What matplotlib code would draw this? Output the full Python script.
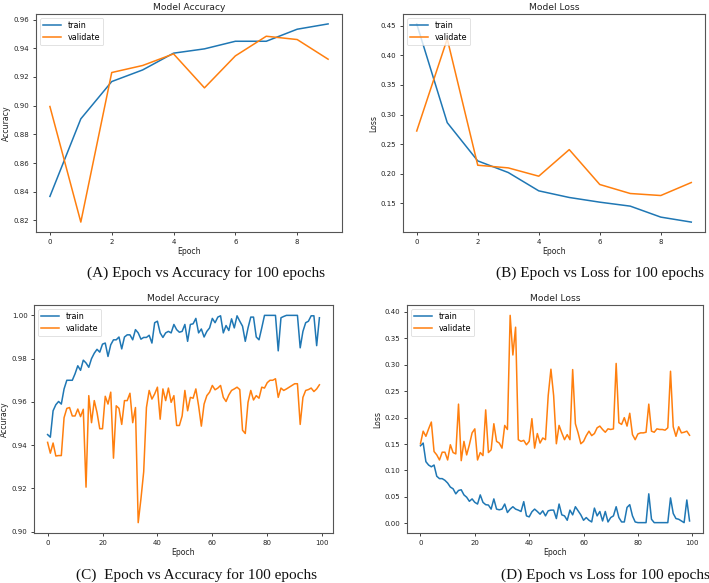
import matplotlib
matplotlib.use("Agg")
import matplotlib.pyplot as plt
from matplotlib.ticker import MultipleLocator

# ---- data ----
epochs10 = list(range(10))
acc10_train = [0.8367, 0.8908, 0.9168, 0.9249, 0.9366, 0.9396, 0.9449, 0.9449, 0.9533, 0.9570]
acc10_val = [0.8994, 0.8188, 0.9231, 0.9280, 0.9361, 0.9124, 0.9347, 0.9484, 0.9461, 0.9324]
loss10_train = [0.4528, 0.2863, 0.2218, 0.2022, 0.1713, 0.1601, 0.1522, 0.1455, 0.1270, 0.1186]
loss10_val = [0.2722, 0.4276, 0.2145, 0.2100, 0.1960, 0.2408, 0.1820, 0.1668, 0.1634, 0.1853]

epochs100 = list(range(100))
acc100_train = [
    0.9449, 0.9437, 0.9559, 0.9587, 0.9602, 0.9590, 0.9660, 0.9700, 0.9700, 0.9700,
    0.9730, 0.9767, 0.9746, 0.9793, 0.9780, 0.9760, 0.9800, 0.9825, 0.9843, 0.9830,
    0.9867, 0.9872, 0.9810, 0.9864, 0.9887, 0.9887, 0.9900, 0.9845, 0.9900, 0.9910,
    0.9910, 0.9887, 0.9934, 0.9919, 0.9890, 0.9898, 0.9898, 0.9908, 0.9872, 0.9966,
    0.9973, 0.9919, 0.9898, 0.9919, 0.9926, 0.9919, 0.9958, 0.9934, 0.9922, 0.9926,
    0.9958, 0.9880, 0.9958, 0.9961, 0.9986, 0.9919, 0.9937, 0.9900, 0.9926, 0.9942,
    0.9986, 0.9966, 0.9992, 0.9998, 0.9919, 0.9953, 0.9930, 0.9984, 0.9942, 0.9998,
    0.9973, 0.9950, 0.9880, 0.9942, 0.9992, 0.9992, 0.9900, 0.9887, 0.9942, 1.0000,
    1.0000, 1.0000, 1.0000, 1.0000, 0.9836, 0.9989, 0.9995, 1.0000, 1.0000, 1.0000,
    1.0000, 1.0000, 0.9850, 0.9926, 0.9966, 0.9973, 0.9998, 0.9998, 0.9860, 0.9989]
acc100_val = [
    0.9413, 0.9363, 0.9410, 0.9350, 0.9352, 0.9352, 0.9527, 0.9570, 0.9574, 0.9535,
    0.9535, 0.9567, 0.9532, 0.9566, 0.9206, 0.9629, 0.9504, 0.9606, 0.9551, 0.9476,
    0.9476, 0.9626, 0.9590, 0.9645, 0.9340, 0.9582, 0.9570, 0.9496, 0.9606, 0.9606,
    0.9640, 0.9504, 0.9574, 0.9042, 0.9152, 0.9277, 0.9574, 0.9653, 0.9613, 0.9637,
    0.9668, 0.9520, 0.9660, 0.9606, 0.9664, 0.9598, 0.9629, 0.9491, 0.9491, 0.9535,
    0.9653, 0.9559, 0.9621, 0.9617, 0.9660, 0.9582, 0.9488, 0.9590, 0.9629, 0.9645,
    0.9676, 0.9656, 0.9664, 0.9676, 0.9621, 0.9602, 0.9632, 0.9653, 0.9660, 0.9668,
    0.9657, 0.9469, 0.9454, 0.9598, 0.9653, 0.9609, 0.9629, 0.9617, 0.9668, 0.9664,
    0.9689, 0.9700, 0.9700, 0.9707, 0.9621, 0.9664, 0.9653, 0.9660, 0.9668, 0.9676,
    0.9684, 0.9684, 0.9496, 0.9621, 0.9653, 0.9657, 0.9664, 0.9648, 0.9660, 0.9679]
loss100_train = [
    0.1468, 0.1519, 0.1167, 0.1103, 0.1070, 0.1103, 0.0891, 0.0846, 0.0846, 0.0814,
    0.0763, 0.0686, 0.0654, 0.0558, 0.0622, 0.0635, 0.0538, 0.0494, 0.0417, 0.0462,
    0.0397, 0.0365, 0.0538, 0.0397, 0.0353, 0.0346, 0.0269, 0.0462, 0.0269, 0.0256,
    0.0269, 0.0365, 0.0205, 0.0269, 0.0314, 0.0269, 0.0250, 0.0224, 0.0410, 0.0141,
    0.0122, 0.0218, 0.0269, 0.0224, 0.0173, 0.0237, 0.0141, 0.0237, 0.0250, 0.0250,
    0.0090, 0.0365, 0.0160, 0.0141, 0.0058, 0.0250, 0.0160, 0.0314, 0.0237, 0.0160,
    0.0058, 0.0109, 0.0058, 0.0026, 0.0288, 0.0141, 0.0224, 0.0045, 0.0224, 0.0026,
    0.0109, 0.0141, 0.0314, 0.0109, 0.0026, 0.0026, 0.0301, 0.0353, 0.0141, 0.0026,
    0.0013, 0.0013, 0.0013, 0.0013, 0.0558, 0.0077, 0.0013, 0.0013, 0.0013, 0.0013,
    0.0013, 0.0013, 0.0481, 0.0186, 0.0090, 0.0077, 0.0045, 0.0013, 0.0442, 0.0045]
loss100_val = [
    0.1506, 0.1744, 0.1647, 0.1788, 0.1917, 0.1359, 0.1295, 0.1199, 0.1346, 0.1346,
    0.1199, 0.1487, 0.1340, 0.1314, 0.2256, 0.1186, 0.1551, 0.1295, 0.1487, 0.1712,
    0.1788, 0.1199, 0.1340, 0.1282, 0.2147, 0.1340, 0.1391, 0.1885, 0.1551, 0.1519,
    0.1423, 0.1853, 0.1776, 0.3936, 0.3186, 0.3712, 0.1583, 0.1551, 0.1570, 0.1487,
    0.1551, 0.1981, 0.1423, 0.1699, 0.1519, 0.1615, 0.1583, 0.2417, 0.2917, 0.2417,
    0.1506, 0.1853, 0.1712, 0.1583, 0.1679, 0.1583, 0.2910, 0.1885, 0.1712, 0.1506,
    0.1551, 0.1660, 0.1744, 0.1660, 0.1699, 0.1808, 0.1840, 0.1776, 0.1724, 0.1788,
    0.1776, 0.1788, 0.3026, 0.1904, 0.1872, 0.2000, 0.1840, 0.2083, 0.1679, 0.1583,
    0.1692, 0.1712, 0.1712, 0.1724, 0.2256, 0.1744, 0.1724, 0.1788, 0.1776, 0.1776,
    0.1763, 0.1808, 0.2878, 0.1827, 0.1647, 0.1827, 0.1712, 0.1724, 0.1744, 0.1667]

titles = ["Model Accuracy", "Model Loss", "Model Accuracy", "Model Loss"]
ylabels = ["Accuracy", "Loss", "Accuracy", "Loss"]
captions = ["(A) Epoch vs Accuracy for 100 epochs", "(B) Epoch vs Loss for 100 epochs",
            "(C)  Epoch vs Accuracy for 100 epochs", "(D) Epoch vs Loss for 100 epochs"]
legend_labels = ["train", "validate"]

# ---- figure ----
W, H = 709, 583
fig = plt.figure(figsize=(W / 100, H / 100), dpi=100)

def rect(l, r, t, b):
    return [l / W, 1 - b / H, (r - l) / W, (b - t) / H]

rects = [rect(36, 342, 14, 232), rect(403, 705, 14, 232),
         rect(34, 333, 305, 533), rect(407, 703, 305, 533)]
data = [(epochs10, acc10_train, acc10_val), (epochs10, loss10_train, loss10_val),
        (epochs100, acc100_train, acc100_val), (epochs100, loss100_train, loss100_val)]
xsteps = [2, 2, 20, 20]
ysteps = [0.02, 0.05, 0.02, 0.05]
cap_pos = [(206, 273), (600, 273), (196, 575), (605, 575)]

tick_fs = 5.0
for i in range(4):
    ax = fig.add_axes(rects[i])
    x, tr, va = data[i]
    ax.plot(x, tr, color="#1f77b4", lw=1.1, label=legend_labels[0])
    ax.plot(x, va, color="#ff7f0e", lw=1.1, label=legend_labels[1])
    ax.set_title(titles[i], fontsize=6.6, pad=3, color="#222222")
    ax.set_xlabel("Epoch", fontsize=5.6, labelpad=2, color="#222222")
    ax.set_ylabel(ylabels[i], fontsize=5.6, labelpad=2, color="#222222")
    ax.xaxis.set_major_locator(MultipleLocator(xsteps[i]))
    ax.yaxis.set_major_locator(MultipleLocator(ysteps[i]))
    ax.yaxis.set_major_formatter(plt.FormatStrFormatter("%.2f"))
    ax.tick_params(labelsize=tick_fs, length=2.5, width=0.6, pad=2.2, colors="#222222")
    for s in ax.spines.values():
        s.set_color("#555555")
        s.set_linewidth(0.8)
    leg = ax.legend(loc="upper left", fontsize=5.8, handlelength=2.2,
                    borderpad=0.4, labelspacing=0.35, handletextpad=0.8, framealpha=0.8)
    leg.get_frame().set_linewidth(0.5)
    cx, cy = cap_pos[i]
    fig.text(cx / W, 1 - cy / H, captions[i], ha="center", va="center",
             fontsize=11, family="Liberation Serif", color="#111111")

fig.savefig("out.png", dpi=100)
